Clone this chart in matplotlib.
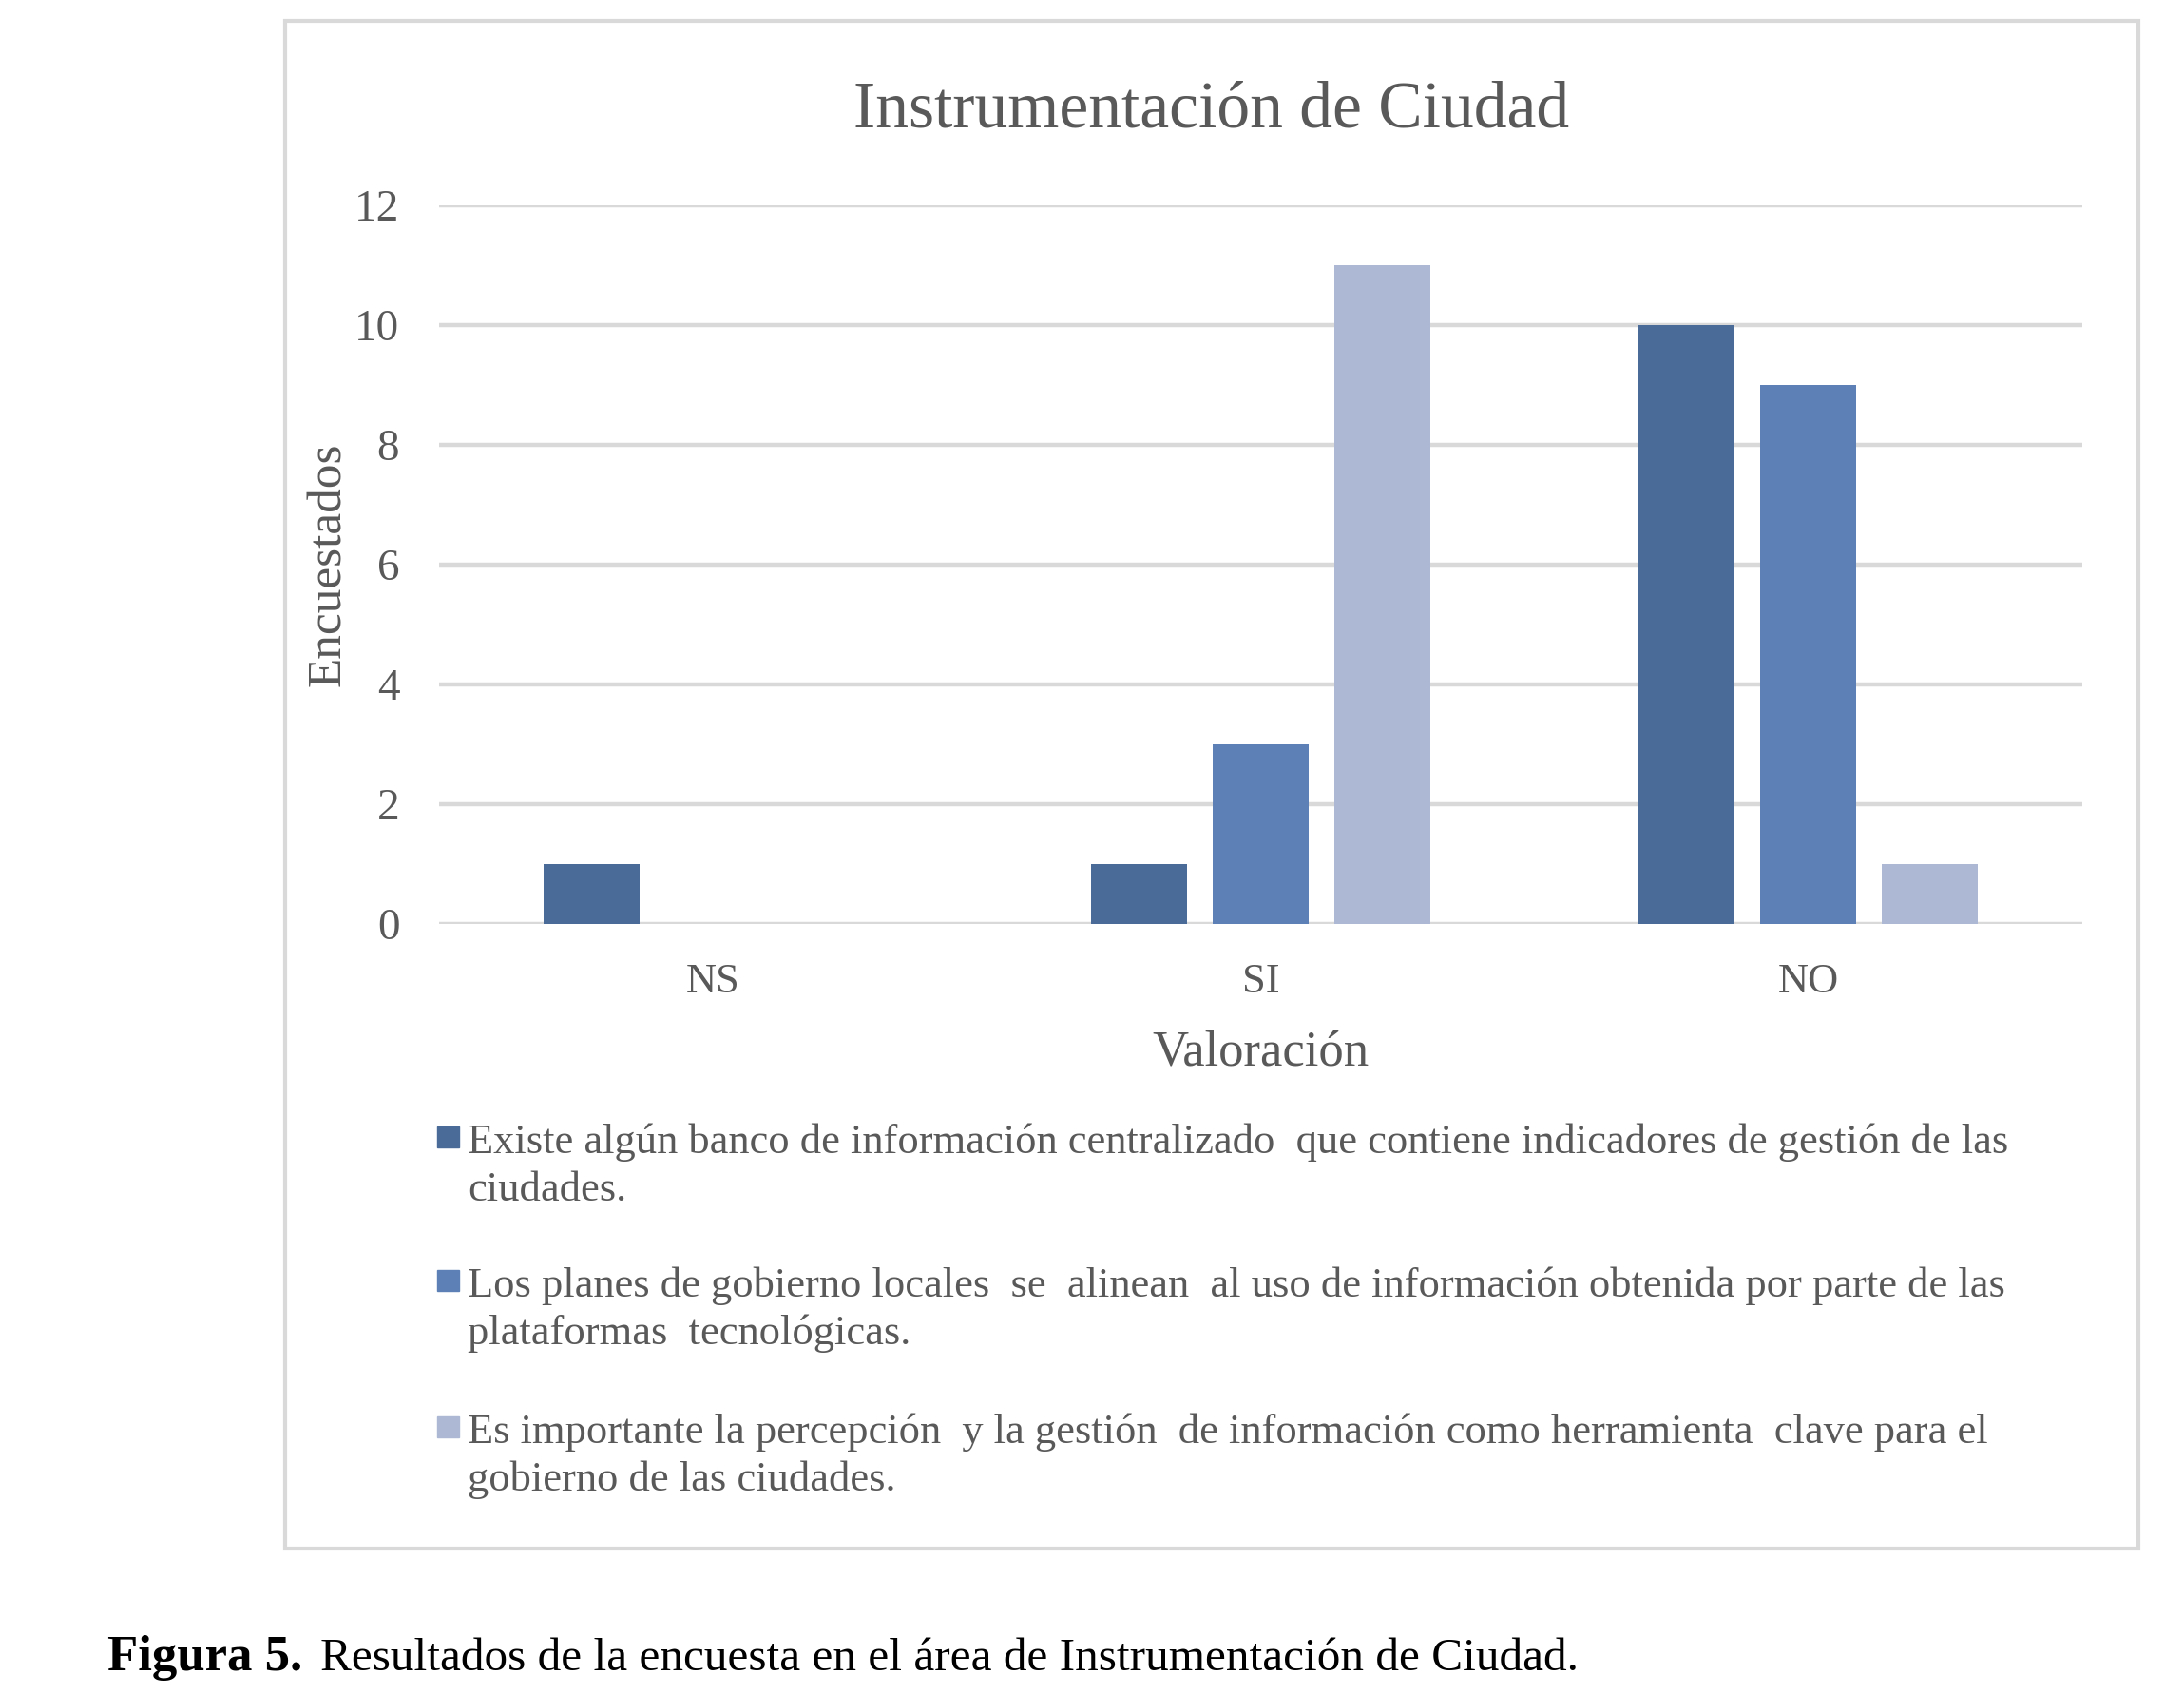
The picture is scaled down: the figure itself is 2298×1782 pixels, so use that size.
import numpy as np
import matplotlib
matplotlib.use("Agg")
import matplotlib.pyplot as plt
from matplotlib.patches import Rectangle

# data
categories = ["NS", "SI", "NO"]
banco_info = [1, 1, 10]
planes_gobierno = [0, 3, 9]
percepcion = [0, 11, 1]

series_labels = [
    "Existe algún banco de información centralizado  que contiene indicadores de gestión de las\nciudades.",
    "Los planes de gobierno locales  se  alinean  al uso de información obtenida por parte de las\nplataformas  tecnológicas.",
    "Es importante la percepción  y la gestión  de información como herramienta  clave para el\ngobierno de las ciudades.",
]
colors = ["#4A6A97", "#5D80B6", "#ADB8D4"]
yticks = [0, 2, 4, 6, 8, 10, 12]

SERIF = "Liberation Serif"
GRAY = "#595959"
W, H = 2298, 1782

fig = plt.figure(figsize=(W / 100, H / 100), dpi=100)
# plot area in pixels: x 462..2191, y 216..972
ax = fig.add_axes([462 / W, 1 - 972 / H, (2191 - 462) / W, (972 - 216) / H])

x = np.arange(len(categories))
width = 0.175
offset = 0.222
series = [banco_info, planes_gobierno, percepcion]
for i, vals in enumerate(series):
    ax.bar(x + (i - 1) * offset, vals, width, color=colors[i], zorder=3)

ax.set_xlim(-0.5, 2.5)
ax.set_ylim(0, 12)
ax.set_yticks(yticks)
ax.set_yticklabels([str(t) for t in yticks], fontfamily=SERIF, fontsize=34, color=GRAY)
ax.set_xticks(x)
ax.set_xticklabels(categories, fontfamily=SERIF, fontsize=32, color=GRAY)
ax.tick_params(axis="both", length=0)
ax.tick_params(axis="y", pad=30)
ax.tick_params(axis="x", pad=29.5)
ax.grid(axis="y", color="#D9D9D9", linewidth=3.2, zorder=0)
ax.grid(axis="x", visible=False)
for s in ax.spines.values():
    s.set_visible(False)

ax.set_xlabel("Valoración", fontfamily=SERIF, fontsize=38, color=GRAY, labelpad=22)
ax.set_ylabel("Encuestados", fontfamily=SERIF, fontsize=37, color=GRAY)
ax.yaxis.set_label_coords(-0.054, 0.5)

fig.text(1275 / W, 1 - 133 / H, "Instrumentación de Ciudad", fontfamily=SERIF,
         fontsize=50, color=GRAY, ha="center", va="baseline")

# legend drawn by hand so the square sits next to the first line
legend_baselines = [1212, 1363, 1517]
line_step = 51
for i, lab in enumerate(series_labels):
    yb = legend_baselines[i]
    fig.add_artist(Rectangle((460 / W, 1 - (yb - 5) / H), 23 / W, 22 / H,
                             transform=fig.transFigure, color=colors[i]))
    # baseline alignment refers to the last line here
    fig.text(492 / W, 1 - (yb + line_step) / H, lab, fontfamily=SERIF, fontsize=32,
             color=GRAY, ha="left", va="baseline", linespacing=1.31)

# chart border
fig.add_artist(Rectangle((300 / W, 1 - 1629 / H), (2250 - 300) / W, (1629 - 22) / H,
                         transform=fig.transFigure, fill=False,
                         edgecolor="#D9D9D9", linewidth=3))

# caption
fig.text(113 / W, 1 - 1757 / H, "Figura 5.", fontfamily=SERIF, fontsize=38,
         fontweight="bold", color="black", ha="left", va="baseline")
fig.text(337 / W, 1 - 1757 / H, "Resultados de la encuesta en el área de Instrumentación de Ciudad.",
         fontfamily=SERIF, fontsize=35.5, color="black", ha="left", va="baseline")

fig.savefig("out.png", dpi=100)
